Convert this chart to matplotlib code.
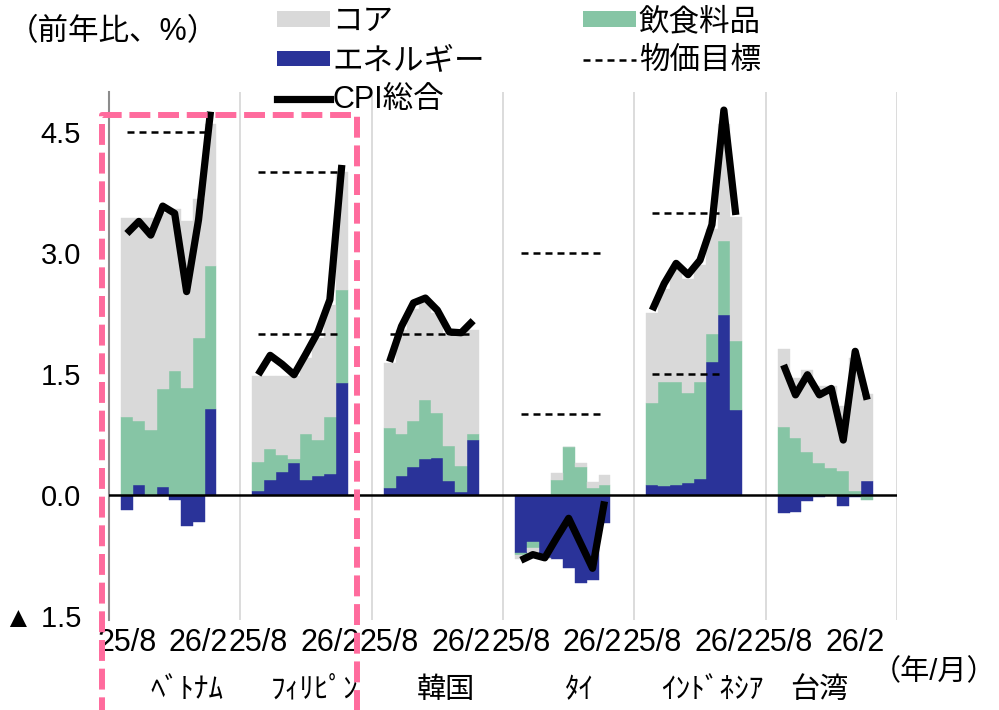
import matplotlib
matplotlib.use("Agg")
import matplotlib.pyplot as plt
import numpy as np
from matplotlib.patches import Patch, Rectangle
from matplotlib.lines import Line2D
from matplotlib.transforms import blended_transform_factory

plt.rcParams['font.family'] = ['Liberation Sans', 'Noto Sans CJK JP', 'DejaVu Sans']

# ---- data (contributions to y/y CPI, %pt) ----
countries = ['ﾍﾞﾄﾅﾑ', 'ﾌｨﾘﾋﾟﾝ', '韓国', 'ﾀｲ', 'ｲﾝﾄﾞﾈｼｱ', '台湾']
months = ['25/8', '25/9', '25/10', '25/11', '25/12', '26/1', '26/2', '26/3']
tick_months = ['25/8', '26/2']

energy = [
    [-0.19, 0.12, 0.00, 0.10, -0.06, -0.38, -0.33, 1.07],
    [0.05, 0.18, 0.29, 0.39, 0.19, 0.24, 0.26, 1.39],
    [0.08, 0.23, 0.35, 0.45, 0.46, 0.17, 0.04, 0.68],
    [-0.72, -0.58, -0.78, -0.80, -0.90, -1.09, -1.06, -0.35],
    [0.12, 0.11, 0.12, 0.15, 0.20, 1.65, 2.23, 1.05],
    [-0.22, -0.21, -0.07, -0.02, 0.00, -0.14, -0.02, 0.17],
]
food = [
    [0.96, 0.79, 0.80, 1.21, 1.53, 1.33, 1.94, 1.77],
    [0.36, 0.39, 0.21, 0.05, 0.57, 0.44, 0.71, 1.15],
    [0.75, 0.53, 0.57, 0.73, 0.55, 0.44, 0.32, 0.08],
    [-0.03, -0.08, 0.00, 0.19, 0.59, 0.35, 0.08, 0.12],
    [1.02, 1.29, 1.28, 1.11, 1.20, 0.35, 0.92, 0.86],
    [0.84, 0.70, 0.53, 0.39, 0.33, 0.30, 0.05, -0.06],
]
core = [
    [2.47, 2.52, 2.63, 2.19, 2.02, 2.07, 1.73, 1.76],
    [1.06, 0.90, 0.97, 1.03, 0.94, 1.27, 1.38, 1.46],
    [0.80, 1.29, 1.38, 1.22, 1.24, 1.39, 1.64, 1.29],
    [-0.04, -0.05, -0.02, 0.08, 0.00, 0.05, 0.08, 0.13],
    [1.11, 1.15, 1.40, 1.42, 1.45, 1.30, 1.45, 1.54],
    [0.97, 0.75, 1.02, 0.96, 1.02, 0.80, 1.65, 1.08],
]
cpi = [
    [3.24, 3.39, 3.22, 3.58, 3.49, 2.52, 3.41, 4.75],
    [1.49, 1.73, 1.62, 1.49, 1.75, 2.02, 2.42, 4.09],
    [1.65, 2.09, 2.38, 2.44, 2.29, 2.02, 2.01, 2.16],
    [-0.81, -0.74, -0.78, -0.53, -0.29, -0.60, -0.91, -0.08],
    [2.29, 2.62, 2.87, 2.73, 2.91, 3.35, 4.77, 3.47],
    [1.61, 1.24, 1.49, 1.24, 1.32, 0.68, 1.78, 1.18],
]
# inflation targets (band edges or point) and number of months they cover
targets = [[4.5], [2.0, 4.0], [2.0], [1.0, 3.0], [1.5, 3.5], []]
target_months = [8, 8, 8, 8, 7, 0]

yticks = [-1.5, 0.0, 1.5, 3.0, 4.5]
ytick_labels = ['▲ 1.5', '0.0', '1.5', '3.0', '4.5']

legend_labels = ['コア', 'エネルギー', 'CPI総合', '飲食料品', '物価目標']

# ---- style ----
c_core = '#D9D9D9'
c_food = '#86C5A5'
c_energy = '#2A3399'
FS_TICK = 21
FS_TEXT = 22
SLOTS = 11  # one blank slot before and two after the 8 monthly bars

fig = plt.figure(figsize=(9.99, 7.10), dpi=100)
ax = fig.add_axes([0.1091, 0.1268, 0.7888, 0.7443])

xt, xl = [], []
for g in range(len(countries)):
    x = SLOTS * g + 1.5 + np.arange(len(months))
    pos = np.zeros(len(months))
    neg = np.zeros(len(months))
    for vals, col in [(energy[g], c_energy), (food[g], c_food), (core[g], c_core)]:
        v = np.array(vals)
        bottom = np.where(v >= 0, pos, neg)
        ax.bar(x, v, width=1.0, bottom=bottom, color=col, edgecolor=col,
               linewidth=0.3, zorder=1)
        pos += np.clip(v, 0, None)
        neg += np.clip(v, None, 0)
    for t in targets[g]:
        ax.hlines(t, x[0], x[target_months[g] - 1], colors='black',
                  linewidth=1.8, linestyles=(0, (2.8, 2.0)), zorder=3)
    ax.plot(x, cpi[g], color='black', linewidth=5.2, solid_joinstyle='round',
            solid_capstyle='butt', zorder=4)
    for m in tick_months:
        xt.append(x[months.index(m)])
        xl.append(m)

for b in range(1, len(countries) + 1):
    ax.axvline(SLOTS * b, color='#D9D9D9', linewidth=1.3, zorder=0)
ax.axhline(0, color='black', linewidth=1.8, zorder=3)

ax.set_xlim(0, SLOTS * len(countries))
ax.set_ylim(-1.55, 5.0)
ax.set_yticks(yticks)
ax.set_yticklabels(ytick_labels)
ax.set_xticks(xt)
ax.set_xticklabels(xl)
ax.tick_params(axis='both', length=0, labelsize=FS_TICK)
ax.tick_params(axis='y', pad=20)
ax.tick_params(axis='x', pad=6, labelsize=FS_TICK + 1)
for s in ['top', 'right', 'bottom']:
    ax.spines[s].set_visible(False)
ax.spines['left'].set_color('#8C8C8C')
ax.spines['left'].set_linewidth(1.5)

# country names under the month labels
label_shift = [1.0, 0.75, 0.7, 0.9, 1.0, -1.0]
trans = blended_transform_factory(ax.transData, ax.transAxes)
for g, name in enumerate(countries):
    ax.text(SLOTS * g + 5.5 + label_shift[g], -0.132, name, transform=trans,
            ha='center', va='center', fontsize=FS_TEXT - 1)

fig.text(0.008, 0.955, '（前年比、%）', ha='left', va='center', fontsize=FS_TEXT)
fig.text(0.997, 0.0535, '（年/月）', ha='right', va='center', fontsize=FS_TEXT - 1)

handles = [
    Patch(facecolor=c_core, edgecolor='none'),
    Patch(facecolor=c_energy, edgecolor='none'),
    Line2D([], [], color='black', linewidth=5.2),
    Patch(facecolor=c_food, edgecolor='none'),
    Line2D([], [], color='black', linewidth=1.8, linestyle=(0, (2.8, 2.0))),
]
fig.legend(handles, legend_labels, loc='upper left', bbox_to_anchor=(0.277, 0.99),
           ncol=2, frameon=False, borderpad=0, borderaxespad=0, fontsize=FS_TEXT,
           handlelength=1.73, handletextpad=0.1, columnspacing=3.2,
           labelspacing=0.3, handleheight=0.4)

# highlight box around the first two economies
box = Rectangle((102 / 999, -0.05), (357 - 102) / 999, (710 - 115) / 710 + 0.05,
                transform=fig.transFigure, fill=False, edgecolor='#FF6B9D',
                linewidth=4.3, linestyle=(0, (3.5, 1.3)), joinstyle='round',
                clip_on=False, zorder=10)
fig.add_artist(box)

fig.savefig('out.png', dpi=100)
